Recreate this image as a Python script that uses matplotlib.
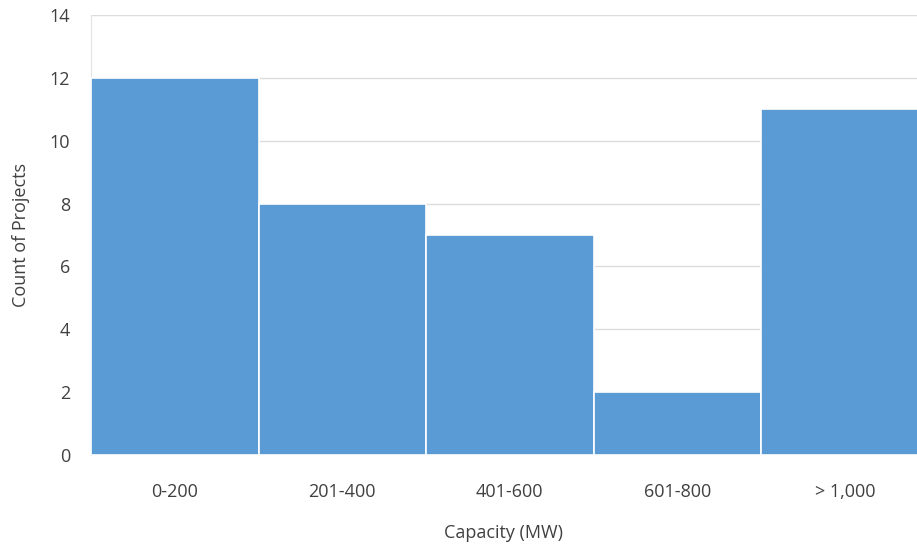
import matplotlib
matplotlib.use("Agg")
import matplotlib.pyplot as plt

categories = ["0-200", "201-400", "401-600", "601-800", "> 1,000"]
counts = [12, 8, 7, 2, 11]
y_ticks = [0, 2, 4, 6, 8, 10, 12, 14]

plt.rcParams['font.family'] = ['Open Sans', 'DejaVu Sans']

fig = plt.figure(figsize=(9.17, 5.48), dpi=100)
ax = fig.add_axes([91/917, 1 - 455/548, (917-91)/917, (455-15)/548])

x = list(range(len(categories)))
ax.bar(x, counts, width=1.0, color="#5B9BD5", edgecolor="white", linewidth=1.2, zorder=3)

ax.set_xlim(-0.5, 4.43)
ax.set_ylim(0, 14)
ax.set_yticks(y_ticks)
ax.set_xticks(x)
ax.set_xticklabels(categories)
ax.grid(axis="y", color="#dcdcdc", linewidth=1.0, zorder=0)
ax.tick_params(axis="both", length=0, labelsize=13, colors="#404040")
ax.tick_params(axis="x", pad=20)
ax.tick_params(axis="y", pad=15)
for s in ["top", "right", "bottom"]:
    ax.spines[s].set_visible(False)
ax.spines["left"].set_color("#e3e3e3")
ax.set_xlabel("Capacity (MW)", fontsize=13, color="#404040", labelpad=17)
ax.set_ylabel("Count of Projects", fontsize=13, color="#404040", labelpad=14)

fig.savefig("out.png", dpi=100)
